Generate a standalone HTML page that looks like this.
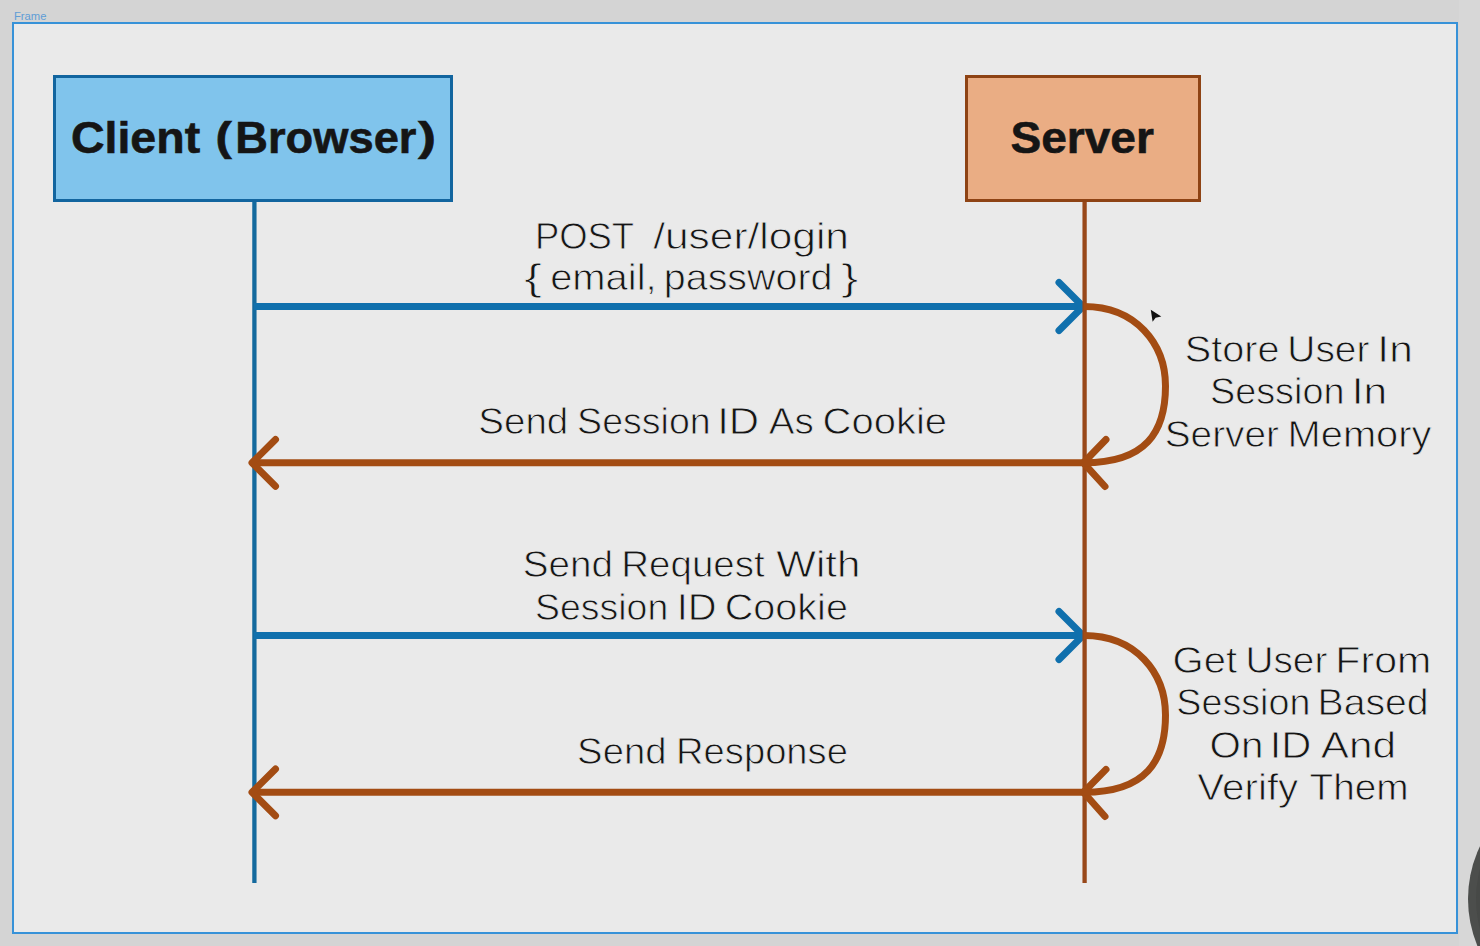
<!DOCTYPE html>
<html><head><meta charset="utf-8">
<style>
html,body{margin:0;padding:0;width:1480px;height:946px;overflow:hidden;background:#d4d4d4;}
svg{position:absolute;left:0;top:0;display:block;}
text{font-family:"Liberation Sans",sans-serif;fill:#151515;}
.thin text{stroke:#eaeaea;stroke-width:0.8px;}
.thinb text{stroke-width:0.8px;}
</style></head>
<body>
<svg width="1480" height="946" viewBox="0 0 1480 946">
  <!-- outer bg -->
  <rect x="0" y="0" width="1480" height="946" fill="#d4d4d4"/>
  <!-- dark circle bottom right -->
  <rect x="1459" y="0" width="21" height="946" fill="#d7d7d7"/>
  <circle cx="1590" cy="899" r="122" fill="#4c4e4c"/>
  <circle cx="1592" cy="899" r="116" fill="#474947"/>
  <!-- frame -->
  <rect x="13" y="23" width="1444" height="910" fill="#eaeaea" stroke="#3792d8" stroke-width="2"/>
  <text x="14" y="20" font-size="11" textLength="32.5" lengthAdjust="spacingAndGlyphs" style="fill:#5f9dd6">Frame</text>

  <!-- boxes -->
  <rect x="54.5" y="76.5" width="397" height="124" fill="#80c4ec" stroke="#12659f" stroke-width="3"/>
  <rect x="966.5" y="76.5" width="233" height="124" fill="#eaad84" stroke="#8e4314" stroke-width="3"/>
    
  <!-- lifelines -->
  <line x1="254.4" y1="202" x2="254.4" y2="883" stroke="#146a9e" stroke-width="4.3"/>

  <!-- arrow 1 blue -->
  <g stroke="#1070ad" stroke-width="7" fill="none" stroke-linecap="round" stroke-linejoin="round">
    <line x1="254" y1="306.5" x2="1082" y2="306.5" stroke-linecap="butt"/>
    <polyline points="1059,282.5 1083,306.5 1059,330.5"/>
    <line x1="254" y1="635.5" x2="1082" y2="635.5" stroke-linecap="butt"/>
    <polyline points="1059,611.5 1083,635.5 1059,659.5"/>
  </g>
  <!-- brown arrows -->
  <line x1="1084.6" y1="202" x2="1084.6" y2="883" stroke="#98481a" stroke-width="4.3"/>
  <g stroke="#a34c13" stroke-width="7" fill="none" stroke-linecap="round" stroke-linejoin="round">
    <line x1="254" y1="462.8" x2="1084" y2="462.8" stroke-linecap="butt"/>
    <polyline points="275.5,439.5 252,462.8 275.5,486.3"/>
    <polyline points="1106,439.5 1083.5,462.8 1105,486.5"/>
    <path stroke-linecap="butt" d="M1084,306.5 C1136,306.5 1165.5,344 1165.5,386 C1165.5,432 1146,462.8 1084,462.8"/>

    <line x1="254" y1="792.3" x2="1084" y2="792.3" stroke-linecap="butt"/>
    <polyline points="275.5,769 252,792.3 275.5,815.8"/>
    <polyline points="1106,769.4 1083.5,792.3 1105,816.5"/>
    <path stroke-linecap="butt" d="M1084,635.5 C1136,635.5 1165.5,673 1165.5,715 C1165.5,761 1146,792.3 1084,792.3"/>
  </g>

  <!-- labels -->
  <g class="thin">
    <text x="70.91" y="153.00" font-size="45" textLength="129.28" lengthAdjust="spacingAndGlyphs" xml:space="preserve" font-weight="bold" style="stroke:#151515;stroke-width:0.6px">Client</text>
    <text x="1010.44" y="152.70" font-size="45" textLength="143.50" lengthAdjust="spacingAndGlyphs" xml:space="preserve" font-weight="bold" style="stroke:#151515;stroke-width:0.6px">Server</text>
    <text x="534.88" y="248.60" font-size="36.5" textLength="99.17" lengthAdjust="spacingAndGlyphs" xml:space="preserve" >POST</text>
    <text x="653.20" y="248.60" font-size="36.5" textLength="195.79" lengthAdjust="spacingAndGlyphs" xml:space="preserve" >/user/login</text>
    <text x="524.39" y="290.00" font-size="36.5" textLength="17.63" lengthAdjust="spacingAndGlyphs" xml:space="preserve" >{</text>
    <text x="550.16" y="290.00" font-size="36.5" textLength="106.51" lengthAdjust="spacingAndGlyphs" xml:space="preserve" >email,</text>
    <text x="663.78" y="290.00" font-size="36.5" textLength="168.78" lengthAdjust="spacingAndGlyphs" xml:space="preserve" >password</text>
    <text x="841.20" y="290.00" font-size="36.5" textLength="16.86" lengthAdjust="spacingAndGlyphs" xml:space="preserve" >}</text>
    <text x="478.30" y="434.30" font-size="36.5" textLength="89.99" lengthAdjust="spacingAndGlyphs" xml:space="preserve" >Send</text>
    <text x="577.11" y="434.30" font-size="36.5" textLength="133.52" lengthAdjust="spacingAndGlyphs" xml:space="preserve" >Session</text>
    <text x="717.22" y="434.30" font-size="36.5" textLength="41.95" lengthAdjust="spacingAndGlyphs" xml:space="preserve" >ID</text>
    <text x="768.77" y="434.30" font-size="36.5" textLength="45.10" lengthAdjust="spacingAndGlyphs" xml:space="preserve" >As</text>
    <text x="822.54" y="434.30" font-size="36.5" textLength="124.54" lengthAdjust="spacingAndGlyphs" xml:space="preserve" >Cookie</text>
    <text x="522.73" y="577.30" font-size="36.5" textLength="90.31" lengthAdjust="spacingAndGlyphs" xml:space="preserve" >Send</text>
    <text x="621.31" y="577.30" font-size="36.5" textLength="143.40" lengthAdjust="spacingAndGlyphs" xml:space="preserve" >Request</text>
    <text x="776.20" y="577.30" font-size="36.5" textLength="84.12" lengthAdjust="spacingAndGlyphs" xml:space="preserve" >With</text>
    <text x="535.11" y="619.80" font-size="36.5" textLength="133.08" lengthAdjust="spacingAndGlyphs" xml:space="preserve" >Session</text>
    <text x="676.74" y="619.80" font-size="36.5" textLength="39.84" lengthAdjust="spacingAndGlyphs" xml:space="preserve" >ID</text>
    <text x="724.78" y="619.80" font-size="36.5" textLength="123.13" lengthAdjust="spacingAndGlyphs" xml:space="preserve" >Cookie</text>
    <text x="577.11" y="763.90" font-size="36.5" textLength="89.35" lengthAdjust="spacingAndGlyphs" xml:space="preserve" >Send</text>
    <text x="676.07" y="763.90" font-size="36.5" textLength="171.84" lengthAdjust="spacingAndGlyphs" xml:space="preserve" >Response</text>
    <text x="1184.73" y="362.10" font-size="36.5" textLength="94.76" lengthAdjust="spacingAndGlyphs" xml:space="preserve" >Store</text>
    <text x="1287.31" y="362.10" font-size="36.5" textLength="82.15" lengthAdjust="spacingAndGlyphs" xml:space="preserve" >User</text>
    <text x="1377.36" y="362.10" font-size="36.5" textLength="35.39" lengthAdjust="spacingAndGlyphs" xml:space="preserve" >In</text>
    <text x="1209.92" y="404.30" font-size="36.5" textLength="134.54" lengthAdjust="spacingAndGlyphs" xml:space="preserve" >Session</text>
    <text x="1351.74" y="404.30" font-size="36.5" textLength="35.39" lengthAdjust="spacingAndGlyphs" xml:space="preserve" >In</text>
    <text x="1164.78" y="446.90" font-size="36.5" textLength="114.20" lengthAdjust="spacingAndGlyphs" xml:space="preserve" >Server</text>
    <text x="1287.64" y="446.90" font-size="36.5" textLength="143.78" lengthAdjust="spacingAndGlyphs" xml:space="preserve" >Memory</text>
    <text x="1172.59" y="672.90" font-size="36.5" textLength="64.55" lengthAdjust="spacingAndGlyphs" xml:space="preserve" >Get</text>
    <text x="1245.45" y="672.90" font-size="36.5" textLength="81.89" lengthAdjust="spacingAndGlyphs" xml:space="preserve" >User</text>
    <text x="1335.31" y="672.90" font-size="36.5" textLength="96.00" lengthAdjust="spacingAndGlyphs" xml:space="preserve" >From</text>
    <text x="1176.30" y="715.30" font-size="36.5" textLength="134.10" lengthAdjust="spacingAndGlyphs" xml:space="preserve" >Session</text>
    <text x="1317.50" y="715.30" font-size="36.5" textLength="111.11" lengthAdjust="spacingAndGlyphs" xml:space="preserve" >Based</text>
    <text x="1209.54" y="757.50" font-size="36.5" textLength="53.86" lengthAdjust="spacingAndGlyphs" xml:space="preserve" >On</text>
    <text x="1269.74" y="757.50" font-size="36.5" textLength="41.63" lengthAdjust="spacingAndGlyphs" xml:space="preserve" >ID</text>
    <text x="1320.68" y="757.50" font-size="36.5" textLength="75.34" lengthAdjust="spacingAndGlyphs" xml:space="preserve" >And</text>
    <text x="1197.39" y="799.80" font-size="36.5" textLength="100.93" lengthAdjust="spacingAndGlyphs" xml:space="preserve" >Verify</text>
    <text x="1309.44" y="799.80" font-size="36.5" textLength="99.23" lengthAdjust="spacingAndGlyphs" xml:space="preserve" >Them</text>
    <text x="215.58" y="150.50" font-size="40" textLength="16.34" lengthAdjust="spacingAndGlyphs" xml:space="preserve" font-weight="bold" style="stroke:#151515;stroke-width:0.6px">(</text>
    <text x="235.30" y="153.00" font-size="45" textLength="181.14" lengthAdjust="spacingAndGlyphs" xml:space="preserve" font-weight="bold" style="stroke:#151515;stroke-width:0.6px">Browser</text>
    <text x="418.00" y="150.50" font-size="40" textLength="18.06" lengthAdjust="spacingAndGlyphs" xml:space="preserve" font-weight="bold" style="stroke:#151515;stroke-width:0.6px">)</text>
  </g>

  <!-- cursor -->
  <path d="M1150.8,309.8 L1161.3,316.6 L1155.6,317.8 L1152.6,321.8 Z" fill="#111"/>
</svg>
</body></html>
